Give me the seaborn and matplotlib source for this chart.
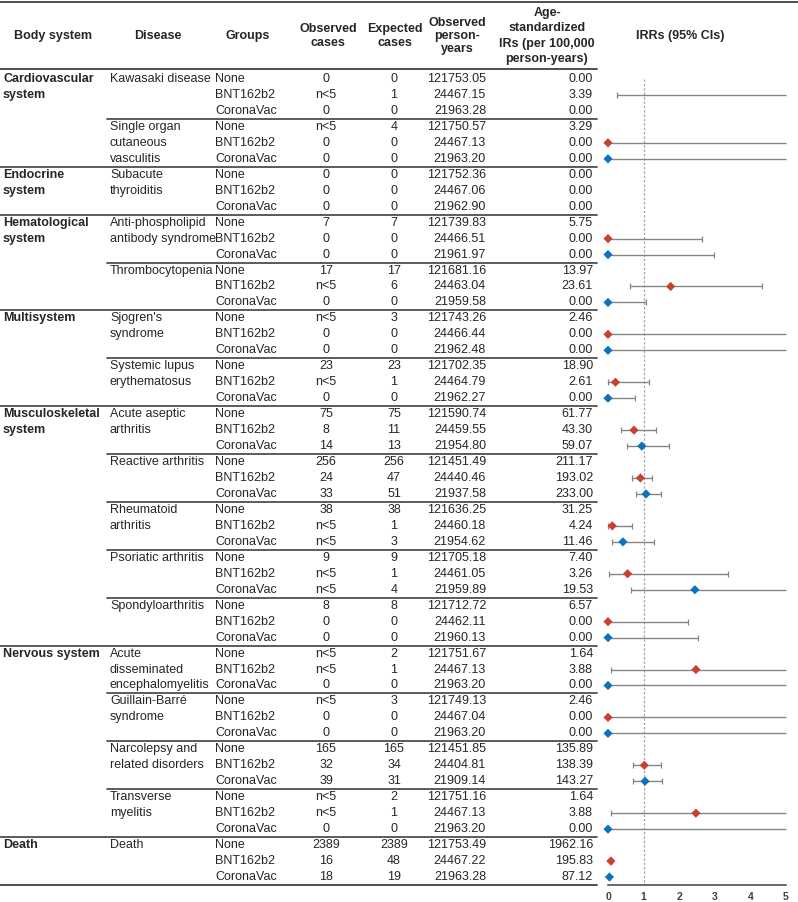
import numpy as np
import pandas as pd
import matplotlib
matplotlib.use("Agg")
import matplotlib.pyplot as plt
import seaborn as sns

# ---- data ----
systems = ["Cardiovascular\nsystem", "Endocrine\nsystem", "Hematological\nsystem", "Multisystem",
           "Musculoskeletal\nsystem", "Nervous system", "Death"]
system_sizes = [2, 1, 2, 2, 5, 4, 1]
diseases = ["Kawasaki disease", "Single organ\ncutaneous\nvasculitis", "Subacute\nthyroiditis",
            "Anti-phospholipid\nantibody syndrome", "Thrombocytopenia", "Sjogren's\nsyndrome",
            "Systemic lupus\nerythematosus", "Acute aseptic\narthritis", "Reactive arthritis",
            "Rheumatoid\narthritis", "Psoriatic arthritis", "Spondyloarthritis",
            "Acute\ndisseminated\nencephalomyelitis", "Guillain-Barré\nsyndrome",
            "Narcolepsy and\nrelated disorders", "Transverse\nmyelitis", "Death"]
groups = ["None", "BNT162b2", "CoronaVac"]

observed = ["0", "n<5", "0", "n<5", "0", "0", "0", "0", "0", "7", "0", "0", "17", "n<5", "0",
            "n<5", "0", "0", "23", "n<5", "0", "75", "8", "14", "256", "24", "33", "38", "n<5", "n<5",
            "9", "n<5", "n<5", "8", "0", "0", "n<5", "n<5", "0", "n<5", "0", "0", "165", "32", "39",
            "n<5", "n<5", "0", "2389", "16", "18"]
expected = ["0", "1", "0", "4", "0", "0", "0", "0", "0", "7", "0", "0", "17", "6", "0",
            "3", "0", "0", "23", "1", "0", "75", "11", "13", "256", "47", "51", "38", "1", "3",
            "9", "1", "4", "8", "0", "0", "2", "1", "0", "3", "0", "0", "165", "34", "31",
            "2", "1", "0", "2389", "48", "19"]
person_years = [121753.05, 24467.15, 21963.28, 121750.57, 24467.13, 21963.20, 121752.36, 24467.06, 21962.90,
                121739.83, 24466.51, 21961.97, 121681.16, 24463.04, 21959.58, 121743.26, 24466.44, 21962.48,
                121702.35, 24464.79, 21962.27, 121590.74, 24459.55, 21954.80, 121451.49, 24440.46, 21937.58,
                121636.25, 24460.18, 21954.62, 121705.18, 24461.05, 21959.89, 121712.72, 24462.11, 21960.13,
                121751.67, 24467.13, 21963.20, 121749.13, 24467.04, 21963.20, 121451.85, 24404.81, 21909.14,
                121751.16, 24467.13, 21963.20, 121753.49, 24467.22, 21963.28]
ir = [0.00, 3.39, 0.00, 3.29, 0.00, 0.00, 0.00, 0.00, 0.00, 5.75, 0.00, 0.00, 13.97, 23.61, 0.00,
      2.46, 0.00, 0.00, 18.90, 2.61, 0.00, 61.77, 43.30, 59.07, 211.17, 193.02, 233.00, 31.25, 4.24, 11.46,
      7.40, 3.26, 19.53, 6.57, 0.00, 0.00, 1.64, 3.88, 0.00, 2.46, 0.00, 0.00, 135.89, 138.39, 143.27,
      1.64, 3.88, 0.00, 1962.16, 195.83, 87.12]

nan, inf = np.nan, np.inf
# IRR and 95% CI per disease (inf = upper bound off the chart)
bnt_est = [nan, 0, nan, 0, 1.76, 0, 0.21, 0.73, 0.91, 0.12, 0.55, 0, 2.47, 0, 1.02, 2.47, 0.08]
bnt_lo = [0.25, 0, nan, 0, 0.63, 0, 0.01, 0.36, 0.68, 0.01, 0.03, 0, 0.09, 0, 0.69, 0.09, 0.06]
bnt_hi = [inf, inf, nan, 2.65, 4.32, inf, 1.16, 1.34, 1.23, 0.68, 3.38, 2.25, inf, inf, 1.48, inf, 0.11]
cv_est = [nan, 0, nan, 0, 0, 0, 0, 0.95, 1.07, 0.42, 2.44, 0, 0, 0, 1.04, 0, 0.04]
cv_lo = [nan, 0, nan, 0, 0, 0, 0, 0.52, 0.80, 0.11, 0.65, 0, 0, 0, 0.69, 0, 0.02]
cv_hi = [nan, inf, nan, 2.98, 1.06, inf, 0.77, 1.70, 1.48, 1.28, inf, 2.53, inf, inf, 1.52, inf, 0.07]

colors = {"BNT162b2": "#C8402E", "CoronaVac": "#0A72BE"}

# ---- layout (pixels) ----
W, H = 798, 902
row0, dy = 79, 15.96
line_col = "#404040"

sns.set_style("white")
plt.rcParams["font.family"] = ["Liberation Sans", "DejaVu Sans"]
fs = 9.0

fig = plt.figure(figsize=(W / 100, H / 100), dpi=100)
tab = fig.add_axes([0, 0, 1, 1])
tab.set_xlim(0, W)
tab.set_ylim(H, 0)
tab.axis("off")


def ry(i):
    return row0 + i * dy


# header
hy = 36
headers = [("Body system", 53, 1.2), ("Disease", 158, 1.2), ("Groups", 248, 1.2),
           ("Observed\ncases", 328, 1.25), ("Expected\ncases", 395, 1.25),
           ("Observed\nperson-\nyears", 457, 1.1), ("Age-\nstandardized\nIRs (per 100,000\nperson-years)", 547, 1.35),
           ("IRRs (95% CIs)", 680, 1.2)]
for txt, x, ls in headers:
    tab.text(x, hy, txt, ha="center", va="center", fontsize=fs, fontweight="bold",
             multialignment="center", linespacing=ls)

tab.plot([0, W], [2, 2], color=line_col, lw=1.3)
tab.plot([0, 597], [ry(-0.6), ry(-0.6)], color=line_col, lw=1.3)

# body rows
n_rows = len(diseases) * 3
for i in range(n_rows):
    y = ry(i)
    tab.text(215, y, groups[i % 3], ha="left", va="center", fontsize=fs)
    tab.text(326, y, observed[i], ha="center", va="center", fontsize=fs)
    tab.text(394, y, expected[i], ha="center", va="center", fontsize=fs)
    tab.text(486, y, f"{person_years[i]:.2f}", ha="right", va="center", fontsize=fs)
    tab.text(593, y, f"{ir[i]:.2f}", ha="right", va="center", fontsize=fs)

for k, d in enumerate(diseases):
    for j, part in enumerate(d.split("\n")):
        tab.text(110, ry(3 * k + j), part, ha="left", va="center", fontsize=fs)

starts = np.cumsum([0] + system_sizes[:-1])
for s, st in zip(systems, starts):
    for j, part in enumerate(s.split("\n")):
        tab.text(3, ry(3 * st + j), part, ha="left", va="center", fontsize=fs, fontweight="bold")

for k in range(1, len(diseases)):
    yb = ry(3 * k - 0.5)
    x0 = 0 if k in starts else 107
    tab.plot([x0, 597], [yb, yb], color=line_col, lw=1.2)
tab.plot([0, 597], [ry(n_rows - 0.5), ry(n_rows - 0.5)], color=line_col, lw=1.3)

# ---- forest plot ----
recs = []
for k in range(len(diseases)):
    recs.append((3 * k + 1, "BNT162b2", bnt_est[k], bnt_lo[k], bnt_hi[k]))
    recs.append((3 * k + 2, "CoronaVac", cv_est[k], cv_lo[k], cv_hi[k]))
df = pd.DataFrame(recs, columns=["row", "group", "est", "lo", "hi"])

top_px, bot_px = ry(-0.6), ry(n_rows - 0.5)
ax = fig.add_axes([608 / W, (H - bot_px) / H, 178 / W, (bot_px - top_px) / H])
ax.set_xlim(0, 5)
ax.set_ylim((bot_px - row0) / dy, (top_px - row0) / dy)

ax.vlines(1, 0, n_rows - 0.5, colors="#a6a6a6", linestyles=(0, (2, 1.5)), lw=0.9)

ci = df.dropna(subset=["lo"])
ax.hlines(ci["row"], ci["lo"], np.minimum(ci["hi"], 5), colors="#858585", lw=1.0, clip_on=False)
ax.plot(ci["lo"], ci["row"], "|", ms=5, mew=0.9, color="#858585", clip_on=False)
fin = ci[np.isfinite(ci["hi"])]
ax.plot(fin["hi"], fin["row"], "|", ms=5, mew=0.9, color="#858585", clip_on=False)

pts = df.dropna(subset=["est"])
sns.scatterplot(data=pts, x="est", y="row", hue="group", palette=colors, marker="D", s=22,
                linewidth=0, legend=False, ax=ax, clip_on=False, zorder=3)

ax.set_xticks(range(6))
ax.set_yticks([])
ax.set_xlabel("")
ax.set_ylabel("")
for side in ["top", "right", "left"]:
    ax.spines[side].set_visible(False)
ax.spines["bottom"].set_color(line_col)
ax.spines["bottom"].set_linewidth(1.1)
ax.tick_params(axis="x", direction="out", length=3, width=0.9, color=line_col, pad=2,
               labelsize=7.5, labelcolor="#404040")
for lab in ax.get_xticklabels():
    lab.set_fontweight("bold")
ax.patch.set_alpha(0)

fig.savefig("out.png", dpi=100)
